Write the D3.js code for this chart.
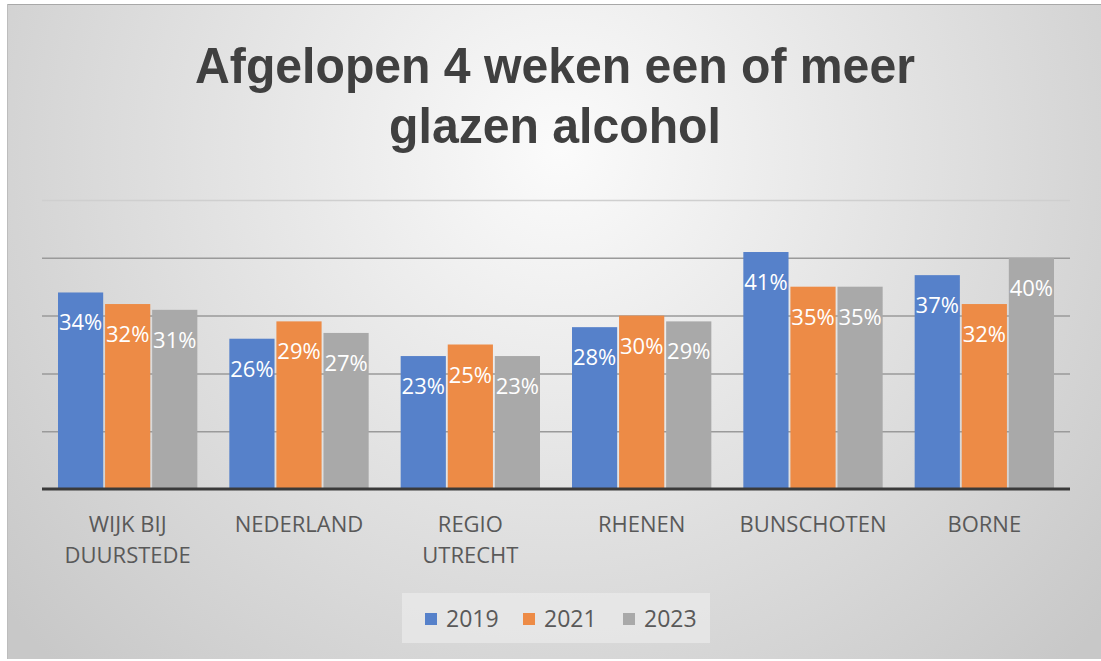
<!DOCTYPE html>
<html>
<head>
<meta charset="utf-8">
<script src="https://cdn.jsdelivr.net/npm/d3@7"></script>
<style>
  html, body { margin: 0; padding: 0; background: #ffffff; }
  svg { display: block; }
</style>
</head>
<body>
<svg id="chart" width="1101" height="661"></svg>
<script>
// ---- data ----
const titleLines = ["Afgelopen 4 weken een of meer", "glazen alcohol"];
const categories = ["WIJK BIJ DUURSTEDE", "NEDERLAND", "REGIO UTRECHT", "RHENEN", "BUNSCHOTEN", "BORNE"];
const categoryLines = [["WIJK BIJ", "DUURSTEDE"], ["NEDERLAND"], ["REGIO", "UTRECHT"], ["RHENEN"], ["BUNSCHOTEN"], ["BORNE"]];
const years = ["2019", "2021", "2023"];
const values2019 = [34, 26, 23, 28, 41, 37];
const values2021 = [32, 29, 25, 30, 35, 32];
const values2023 = [31, 27, 23, 29, 35, 40];
const yTicks = [0, 10, 20, 30, 40, 50];

const seriesValues = [values2019, values2021, values2023];
const colors = ["#5681CA", "#ED8B46", "#A9A9A9"];

const svg = d3.select("#chart");
const W = 1101, H = 661;

// background
const defs = svg.append("defs");
const grad = defs.append("radialGradient")
  .attr("id", "bg").attr("gradientUnits", "userSpaceOnUse")
  .attr("cx", 560).attr("cy", 150).attr("r", 720);
grad.append("stop").attr("offset", "0").attr("stop-color", "#fbfbfb");
grad.append("stop").attr("offset", "0.45").attr("stop-color", "#e4e4e4");
grad.append("stop").attr("offset", "1").attr("stop-color", "#c8c8c8");

svg.append("rect").attr("x", 7).attr("y", 4).attr("width", W - 7).attr("height", 655)
  .attr("fill", "url(#bg)");
svg.append("line").attr("x1", 7).attr("x2", W).attr("y1", 4.5).attr("y2", 4.5)
  .attr("stroke", "#a8a8a8").attr("stroke-width", 1);
svg.append("line").attr("x1", 7.5).attr("x2", 7.5).attr("y1", 4).attr("y2", 659)
  .attr("stroke", "#bdbdbd").attr("stroke-width", 1);

// title
const titleY = [83, 143];
const tEls = titleLines.map((line, i) => svg.append("text").text(line)
  .attr("font-family", "'Liberation Sans', Arial, sans-serif").attr("font-weight", 700)
  .attr("font-size", 50).attr("fill", "#404040").attr("text-anchor", "middle"));
const sx = 720 / tEls[0].node().getComputedTextLength();
tEls.forEach((t, i) => t.attr("transform", `translate(555,${titleY[i]}) scale(${sx},1)`));

// scales
const x0 = d3.scaleBand().domain(categories).range([42, 1070]).paddingInner(0).paddingOuter(0);
const x1 = d3.scaleBand().domain(years).range([16, x0.bandwidth() - 16]).paddingInner(0.04).paddingOuter(0);
const y = d3.scaleLinear().domain([0, 50]).range([489, 200]);

// gridlines
const yAxis = d3.axisLeft(y).tickValues(yTicks).tickSize(-(1070 - 42)).tickFormat("");
const gAxis = svg.append("g").attr("transform", "translate(42,0)").call(yAxis);
gAxis.select(".domain").remove();
gAxis.selectAll(".tick line")
  .attr("stroke", d => d === 50 ? "#cfcfcf" : "#9a9a9a")
  .attr("stroke-width", 1.5);
gAxis.selectAll(".tick").filter(d => d === 0).remove();

// bars
const groups = svg.append("g").selectAll("g").data(categories).join("g")
  .attr("transform", d => `translate(${x0(d)},0)`);

groups.selectAll("rect")
  .data((c, i) => years.map((yr, s) => ({ yr, s, v: seriesValues[s][i] })))
  .join("rect")
  .attr("x", d => x1(d.yr))
  .attr("y", d => y(d.v))
  .attr("width", x1.bandwidth())
  .attr("height", d => y(0) - y(d.v))
  .attr("fill", d => colors[d.s]);

groups.selectAll("text.lbl")
  .data((c, i) => years.map((yr, s) => ({ yr, s, v: seriesValues[s][i] })))
  .join("text").attr("class", "lbl")
  .attr("x", d => x1(d.yr) + x1.bandwidth() / 2)
  .attr("y", d => y(d.v) + 38)
  .attr("text-anchor", "middle")
  .attr("font-family", "'Open Sans', sans-serif")
  .attr("font-size", 22)
  .attr("fill", "#ffffff")
  .text(d => d.v + "%");

// baseline
svg.append("line").attr("x1", 42).attr("x2", 1070).attr("y1", y(0)).attr("y2", y(0))
  .attr("stroke", "#3a3a3a").attr("stroke-width", 3);

// category labels
const catG = svg.append("g").selectAll("text").data(categories).join("text")
  .attr("x", d => x0(d) + x0.bandwidth() / 2)
  .attr("y", 532)
  .attr("text-anchor", "middle")
  .attr("font-family", "'Open Sans', sans-serif")
  .attr("font-size", 22)
  .attr("fill", "#595959");
catG.selectAll("tspan").data((d, i) => categoryLines[i]).join("tspan")
  .attr("x", function () { return d3.select(this.parentNode).attr("x"); })
  .attr("dy", (d, i) => i === 0 ? 0 : 31)
  .text(d => d);

// legend
const leg = svg.append("g");
leg.append("rect").attr("x", 402).attr("y", 593).attr("width", 308).attr("height", 50)
  .attr("fill", "#ebebeb").attr("opacity", 0.7);
const legX = [425, 523, 623];
years.forEach((yr, i) => {
  leg.append("rect").attr("x", legX[i]).attr("y", 613).attr("width", 12).attr("height", 12)
    .attr("fill", colors[i]);
  leg.append("text").attr("x", legX[i] + 21).attr("y", 627)
    .attr("font-family", "'Open Sans', sans-serif").attr("font-size", 23)
    .attr("fill", "#595959").text(yr);
});
</script>
</body>
</html>
